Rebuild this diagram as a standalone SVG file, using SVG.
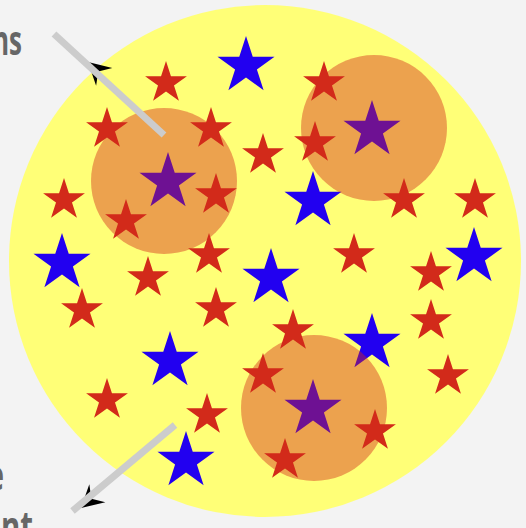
<svg xmlns="http://www.w3.org/2000/svg" xmlns:xlink="http://www.w3.org/1999/xlink" width="526" height="528" viewBox="0 0 526 528">
<style>
.lbl{font-family:"Open Sans","Liberation Sans",sans-serif;font-weight:700;font-size:42px;fill:#666666}
.red{fill:#D22A1A}
.blue{fill:#2200F0}
.sample{fill:#D2281A;fill-opacity:0.43}
.conn{stroke:#CCCCCC;stroke-width:7;fill:none}
.head{fill:#000000}
</style>
<defs>
<path id="rs" d="M0,-22 L4.94,-6.8 L20.92,-6.8 L7.99,2.6 L12.93,17.8 L0,8.4 L-12.93,17.8 L-7.99,2.6 L-20.92,-6.8 L-4.94,-6.8 Z"/>
<path id="bs" d="M0,-30 L6.74,-9.27 L28.53,-9.27 L10.9,3.54 L17.63,24.27 L0,11.46 L-17.63,24.27 L-10.9,3.54 L-28.53,-9.27 L-6.74,-9.27 Z"/>
<path id="ah" d="M0,0 L-22,-12 L-14,0 L-22,12 Z"/>
</defs>
<rect width="526" height="528" fill="#F3F3F3"/>
<g id="labels">
<text class="lbl" text-anchor="end" transform="translate(22,55) scale(0.62,1)">ns</text>
<text class="lbl" text-anchor="end" transform="translate(4,490) scale(0.62,1)">e</text>
<text class="lbl" transform="translate(1,541) scale(0.7,1)">nt</text>
</g>
<g id="population">
<circle cx="265" cy="261" r="256" fill="#FFFF77"/>
</g>
<g id="blue-stars" class="blue">
<use xlink:href="#bs" x="246" y="66"/>
<use xlink:href="#bs" x="313" y="201"/>
<use xlink:href="#bs" x="62" y="263"/>
<use xlink:href="#bs" x="271" y="278"/>
<use xlink:href="#bs" x="474" y="257"/>
<use xlink:href="#bs" x="372" y="343"/>
<use xlink:href="#bs" x="170" y="361"/>
<use xlink:href="#bs" x="186" y="461"/>
<use xlink:href="#bs" x="168" y="182"/>
<use xlink:href="#bs" x="372" y="130"/>
<use xlink:href="#bs" x="313" y="409"/>
</g>
<g id="samples" class="sample">
<circle id="sample-1" cx="164" cy="181" r="73"/>
<circle id="sample-2" cx="374" cy="128" r="73"/>
<circle id="sample-3" cx="314" cy="408" r="73"/>
</g>
<g id="red-stars" class="red">
<use xlink:href="#rs" x="166" y="83"/>
<use xlink:href="#rs" x="324" y="83"/>
<use xlink:href="#rs" x="107" y="129"/>
<use xlink:href="#rs" x="211" y="129"/>
<use xlink:href="#rs" x="263" y="155"/>
<use xlink:href="#rs" x="315" y="143"/>
<use xlink:href="#rs" x="64" y="200"/>
<use xlink:href="#rs" x="216" y="195"/>
<use xlink:href="#rs" x="126" y="221"/>
<use xlink:href="#rs" x="404" y="200"/>
<use xlink:href="#rs" x="475" y="200"/>
<use xlink:href="#rs" x="209" y="255"/>
<use xlink:href="#rs" x="148" y="278"/>
<use xlink:href="#rs" x="354" y="255"/>
<use xlink:href="#rs" x="431" y="273"/>
<use xlink:href="#rs" x="82" y="310"/>
<use xlink:href="#rs" x="216" y="309"/>
<use xlink:href="#rs" x="431" y="321"/>
<use xlink:href="#rs" x="293" y="331"/>
<use xlink:href="#rs" x="263" y="375"/>
<use xlink:href="#rs" x="448" y="376"/>
<use xlink:href="#rs" x="107" y="400"/>
<use xlink:href="#rs" x="207" y="415"/>
<use xlink:href="#rs" x="375" y="431"/>
<use xlink:href="#rs" x="285" y="460"/>
</g>
<g id="connectors">
<use xlink:href="#ah" class="head" transform="translate(88,62) rotate(-137.5)"/>
<line class="conn" x1="54" y1="34" x2="164" y2="135"/>
<use xlink:href="#ah" class="head" transform="translate(81,508) rotate(138)"/>
<line class="conn" x1="175" y1="425" x2="72.5" y2="511"/>
</g>
</svg>
